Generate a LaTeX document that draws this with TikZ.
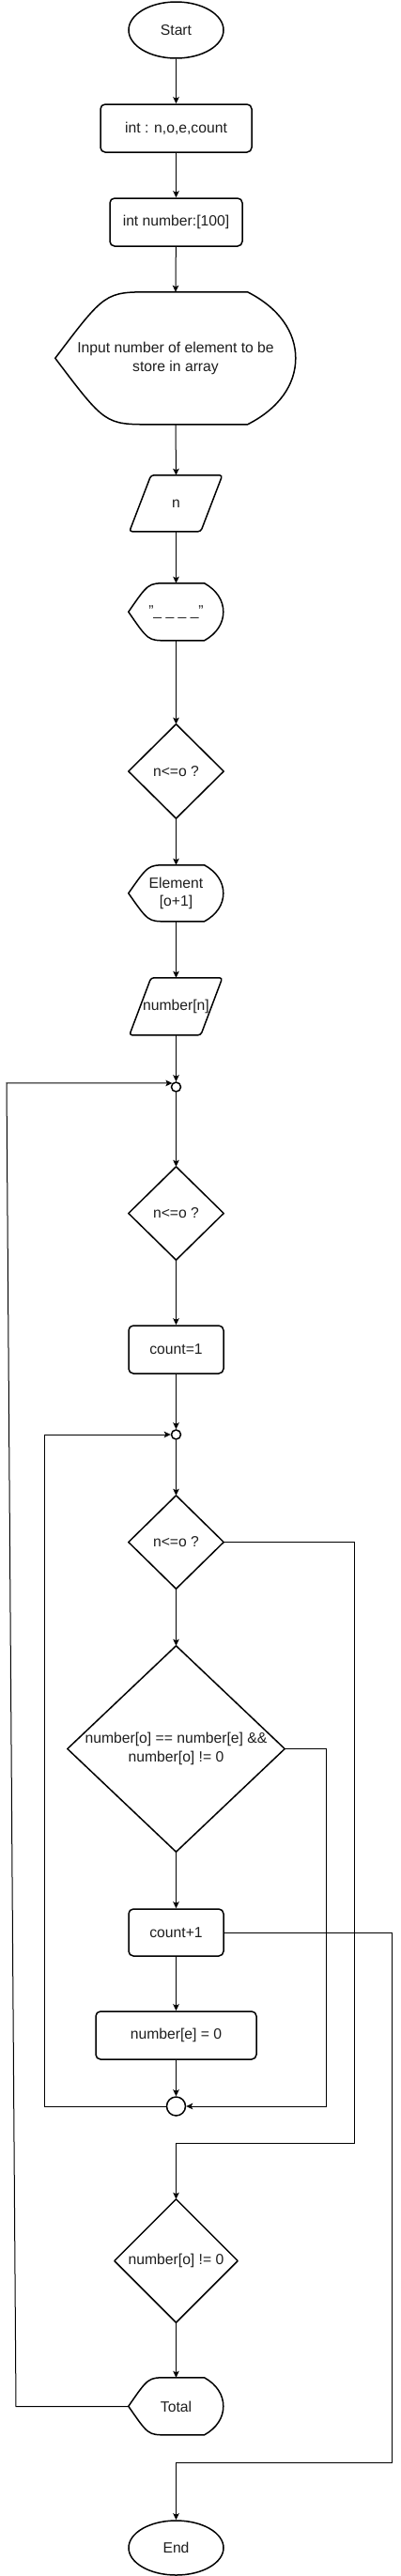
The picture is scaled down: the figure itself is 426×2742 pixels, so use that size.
\documentclass[tikz,border=0pt]{standalone}
\usepackage{fontspec}
\setmainfont{Liberation Sans}
\usetikzlibrary{shapes.geometric,arrows.meta}
\definecolor{txt}{RGB}{30,30,30}
\newcommand\lblfont{\fontsize{15.7}{19.5}\selectfont\color{txt}}
\newcommand\dispshape[3]{%
  \begin{scope}[shift={(#1.north west)}]
    \pgfmathsetmacro\dA{0.4*#2}\pgfmathsetmacro\rA{0.2*#2}
    \draw[shp] (0,#3/2) .. controls (0.52*\dA,0) .. (\dA,0) -- (#2-\rA,0)
      .. controls (#2-0.35*\rA,0.12*#3) and (#2,0.3*#3) .. (#2,#3/2)
      .. controls (#2,0.7*#3) and (#2-0.35*\rA,0.88*#3) .. (#2-\rA,#3)
      -- (\dA,#3) .. controls (0.52*\dA,#3) .. (0,#3/2) -- cycle;
  \end{scope}}
\newcommand\paral[3]{%
  \begin{scope}[shift={(#1.north west)}]
    \draw[shp,rounded corners=3pt] (23,0) -- (#2,0) -- (#2-23,#3) -- (0,#3) -- cycle;
  \end{scope}}
\newcommand\diam[1]{\draw[shp] (#1.north) -- (#1.east) -- (#1.south) -- (#1.west) -- cycle;}
\begin{document}
\begin{tikzpicture}[x=1pt,y=-1pt,
  shp/.style={draw=black,line width=1.5pt,fill=white,line join=round},
  holder/.style={shape=rectangle,inner sep=0pt,align=center,font=\lblfont},
  rbox/.style={shape=rectangle,draw=black,line width=1.5pt,rounded corners=5pt,inner sep=0pt,align=center,font=\lblfont,fill=white},
  ebox/.style={shape=ellipse,draw=black,line width=1.5pt,inner sep=0pt,align=center,font=\lblfont,fill=white},
  jct/.style={shape=circle,draw=black,line width=1.5pt,inner sep=0pt,fill=white},
  conn/.style={draw=black,line width=1pt,-{Stealth[length=7pt,width=6.5pt,inset=1.5pt]}}]
\fill[white] (0,0) rectangle (426,2742);
\useasboundingbox (0,0) rectangle (426,2742);

% nodes
\node[ebox,minimum width=101pt,minimum height=60pt] (start) at (187.5,32) {Start};
\node[rbox,minimum width=161pt,minimum height=51pt] (v1) at (187.5,136.5) {int : n,o,e,count};
\node[rbox,minimum width=141pt,minimum height=51pt] (v2) at (187.5,236.5) {int number:[100]};
\node[holder,minimum width=256pt,minimum height=141pt] (inp) at (187,381.5) {};
\node[holder,minimum width=99pt,minimum height=60pt] (nin) at (187.5,536) {};
\node[holder,minimum width=101pt,minimum height=61pt] (dash) at (187.5,651.5) {};
\node[holder,minimum width=101pt,minimum height=100pt] (d1) at (187.5,821) {};
\node[holder,minimum width=101pt,minimum height=60pt] (elem) at (187.5,951) {};
\node[holder,minimum width=99pt,minimum height=61pt] (numn) at (187.5,1071.5) {};
\node[jct,minimum size=10pt] (j1) at (187.5,1157) {};
\node[holder,minimum width=101pt,minimum height=99pt] (d2) at (187.5,1291.5) {};
\node[rbox,minimum width=101pt,minimum height=51pt] (c1) at (187.5,1436.5) {count=1};
\node[jct,minimum size=10pt] (j2) at (187.5,1527) {};
\node[holder,minimum width=101pt,minimum height=99pt] (d3) at (187.5,1641.5) {};
\node[holder,minimum width=231pt,minimum height=219pt] (d4) at (187.5,1861.5) {};
\node[rbox,minimum width=101pt,minimum height=50pt] (cp) at (187.5,2057) {count+1};
\node[rbox,minimum width=171pt,minimum height=51pt] (ne) at (187.5,2166.5) {number[e] = 0};
\node[jct,minimum size=20pt] (j3) at (187.5,2242) {};
\node[holder,minimum width=131pt,minimum height=131pt] (d5) at (187.5,2406.5) {};
\node[holder,minimum width=101pt,minimum height=61pt] (total) at (187.5,2561.5) {};
\node[ebox,minimum width=101pt,minimum height=58pt] (end) at (187.5,2712) {End};

% outlines of drawn shapes
\dispshape{inp}{256}{141}
\paral{nin}{99}{60}
\dispshape{dash}{101}{61}
\diam{d1}
\dispshape{elem}{101}{60}
\paral{numn}{99}{61}
\diam{d2}
\diam{d3}
\diam{d4}
\diam{d5}
\dispshape{total}{101}{61}

% labels
\node[holder] at (inp.center) {Input number of element to be\\store in array};
\node[holder] at (nin.center) {n};
\node[holder] at (dash.center) {"\_ \_ \_ \_"};
\node[holder] at (d1.center) {n<=o ?};
\node[holder] at (elem.center) {Element\\{}[o+1]};
\node[holder] at (numn.center) {number[n]};
\node[holder] at (d2.center) {n<=o ?};
\node[holder] at (d3.center) {n<=o ?};
\node[holder] at (d4.center) {number[o] == number[e] \&\&\\number[o] != 0};
\node[holder] at (d5.center) {number[o] != 0};
\node[holder] at (total.center) {Total};

% helper coordinates
\coordinate (lxb) at (17,0);
\coordinate (lxt) at (7,0);
\coordinate (l2) at (47,0);
\coordinate (r1) at (347,0);
\coordinate (r2) at (377,0);
\coordinate (r3) at (417,0);
\coordinate (y1) at (0,2281);
\coordinate (y2) at (0,2621);

% straight connectors
\draw[conn] (start) -- (v1);
\draw[conn] (v1) -- (v2);
\draw[conn] (v2) -- (inp.north);
\draw[conn] (inp.south) -- (nin.north);
\draw[conn] (nin.south) -- (dash.north);
\draw[conn] (dash.south) -- (d1.north);
\draw[conn] (d1.south) -- (elem.north);
\draw[conn] (elem.south) -- (numn.north);
\draw[conn] (numn.south) -- (j1.north);
\draw[conn] (j1.south) -- (d2.north);
\draw[conn] (d2.south) -- (c1.north);
\draw[conn] (c1.south) -- (j2.north);
\draw[conn] (j2.south) -- (d3.north);
\draw[conn] (d3.south) -- (d4.north);
\draw[conn] (d4.south) -- (cp.north);
\draw[conn] (cp.south) -- (ne.north);
\draw[conn] (ne.south) -- (j3.north);
\draw[conn] (d5.south) -- (total.north);

% routed connectors
\draw[conn] (d4.east) -- (d4.east -| r1) -- (j3.east -| r1) -- (j3.east);
\draw[conn] (j3.west) -- (j3.west -| l2) -- (j2.west -| l2) -- (j2.west);
\draw[conn] (d3.east) -- (d3.east -| r2) -- (r2 |- y1) -- (d5.north |- y1) -- (d5.north);
\draw[conn] (cp.east) -- (cp.east -| r3) -- (r3 |- y2) -- (end.north |- y2) -- (end.north);
\draw[conn] (total.west) -- (total.west -| lxb) -- (j1.north west -| lxt) -- (j1.north west);
\end{tikzpicture}
\end{document}
